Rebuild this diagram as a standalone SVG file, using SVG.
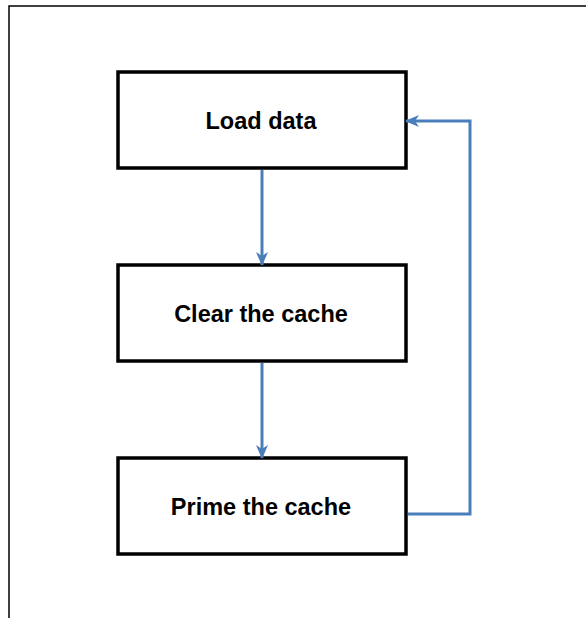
<svg xmlns="http://www.w3.org/2000/svg" width="586" height="618" viewBox="0 0 586 618">
<style>
.box{fill:#fff;stroke:#000;stroke-width:3.5}
.lbl{font-family:"Liberation Sans",Arial,sans-serif;font-weight:bold;font-size:23.5px;fill:#000;text-anchor:middle}
.conn{fill:none;stroke:#4A7EBB;stroke-width:3;marker-end:url(#ah)}
</style>
<defs>
<marker id="ah" markerUnits="userSpaceOnUse" viewBox="0 0 14 12" refX="13" refY="6" markerWidth="14" markerHeight="12" orient="auto">
<path d="M0,0 L14,6 L0,12 L4,6 z" fill="#4A7EBB"/>
</marker>
</defs>
<rect width="586" height="618" fill="#fff"/>
<path d="M9,618 V6 H586" fill="none" stroke="#000" stroke-width="1.5"/>
<g id="load">
<rect class="box" x="118" y="72" width="288" height="96"/>
<text class="lbl" x="261" y="129">Load data</text>
</g>
<g id="clear">
<rect class="box" x="118" y="265" width="288" height="96"/>
<text class="lbl" x="261" y="322">Clear the cache</text>
</g>
<g id="prime">
<rect class="box" x="118" y="458" width="288" height="96"/>
<text class="lbl" x="261" y="515">Prime the cache</text>
</g>
<g id="connectors">
<path class="conn" d="M262,170 V265"/>
<path class="conn" d="M262,363 V458"/>
<path class="conn" d="M408,514 H470 V121 H406"/>
</g>
</svg>
